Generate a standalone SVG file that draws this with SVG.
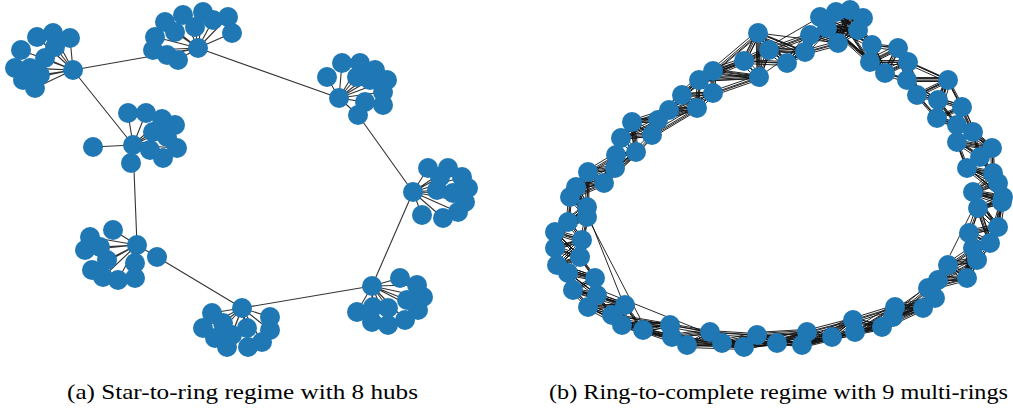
<svg xmlns="http://www.w3.org/2000/svg" xmlns:xlink="http://www.w3.org/1999/xlink" width="1013" height="408" viewBox="0 0 1013 408">
<style>
.e{fill:none;stroke:#333;stroke-width:1.1}
.r{fill:none;stroke:#111;stroke-width:0.9;stroke-linejoin:round}
.n circle{fill:#1f77b4}
.cap{font-family:"Liberation Serif","DejaVu Serif",serif;font-size:21px;fill:#000}
</style>
<defs>
<path id="ring1" d="M820 17L836 12 850 10 863 18 858 30 838 43 827 28 810 35 805 52 787 63 769 50 758 33 744 61 759 77 713 71 699 80 713 93 682 95 697 108 669 110 658 120 652 135 632 122 621 138 636 152 616 155 615 168 604 183 588 172 576 187 570 197 587 207 587 217 568 222 555 232 582 240 555 248 580 257 557 265 568 273 595 278 573 290 597 295 588 307 625 305 612 315 622 325 643 330 670 325 672 337 687 345 710 332 722 343 744 347 757 335 777 343 807 332 802 345 832 337 853 320 855 332 882 327 895 307 893 317 923 308 935 298 928 288 938 280 948 265 967 278 977 260 973 248 969 233 990 243 998 227 978 208 1002 202 973 192 1003 197 998 183 993 173 967 168 980 157 992 148 957 142 973 132 957 125 962 107 937 118 938 100 948 80 917 95 907 80 908 62 898 48 885 73 870 62 872 45Z"/>
<path id="ring2" d="M820 17L850 10 858 30 827 28 805 52 769 50 744 61 713 71 713 93 697 108 658 120 632 122 636 152 615 168 588 172 570 197 587 217 555 232 555 248 557 265 595 278 597 295 625 305 622 325 670 325 687 345 722 343 757 335 807 332 832 337 855 332 895 307 923 308 928 288 948 265 977 260 969 233 998 227 1002 202 1003 197 993 173 980 157 957 142 957 125 937 118 948 80 907 80 898 48 870 62Z M836 12L863 18 838 43 810 35 787 63 758 33 759 77 699 80 682 95 669 110 652 135 621 138 616 155 604 183 576 187 587 207 568 222 582 240 580 257 568 273 573 290 588 307 612 315 643 330 672 337 710 332 744 347 777 343 802 345 853 320 882 327 893 317 935 298 938 280 967 278 973 248 990 243 978 208 973 192 998 183 967 168 992 148 973 132 962 107 938 100 917 95 908 62 885 73 872 45Z"/>
<path id="ring3" d="M820 17L863 18 827 28 787 63 744 61 699 80 697 108 652 135 636 152 604 183 570 197 568 222 555 248 568 273 597 295 612 315 670 325 710 332 757 335 802 345 855 332 893 317 928 288 967 278 969 233 978 208 1003 197 967 168 957 142 962 107 948 80 908 62 870 62 836 12 858 30 810 35 769 50 759 77 713 93 669 110 632 122 616 155 588 172 587 207 555 232 580 257 595 278 588 307 622 325 672 337 722 343 777 343 832 337 882 327 923 308 938 280 977 260 990 243 1002 202 998 183 980 157 973 132 937 118 917 95 898 48 872 45 850 10 838 43 805 52 758 33 713 71 682 95 658 120 621 138 615 168 576 187 587 217 582 240 557 265 573 290 625 305 643 330 687 345 744 347 807 332 853 320 895 307 935 298 948 265 973 248 998 227 973 192 993 173 992 148 957 125 938 100 907 80 885 73Z"/>
</defs>
<g id="connectors">
<g id="edges-a">
<path class="e" d="M73 70L37 37M73 70L53 33M73 70L70 38M73 70L21 50M73 70L55 47M73 70L15 68M73 70L30 68M73 70L23 80M73 70L35 88M73 70L40 75M73 70L45 58"/>
<path class="e" d="M198 48L165 22M198 48L183 15M198 48L203 12M198 48L213 20M198 48L228 17M198 48L232 33M198 48L155 37M198 48L153 50M198 48L167 55M198 48L178 60M198 48L175 32M198 48L195 27"/>
<path class="e" d="M133 145L93 147M133 145L131 163M133 145L128 113M133 145L146 113M133 145L162 119M133 145L175 125M133 145L177 148M133 145L163 158M133 145L150 150M133 145L153 132M133 145L167 137"/>
<path class="e" d="M339 98L327 77M339 98L342 63M339 98L360 63M339 98L375 70M339 98L387 80M339 98L383 92M339 98L383 105M339 98L365 102M339 98L358 115M339 98L370 80M339 98L357 77"/>
<path class="e" d="M413 192L428 168M413 192L448 168M413 192L462 177M413 192L468 188M413 192L465 202M413 192L458 212M413 192L443 218M413 192L422 215M413 192L437 190M413 192L453 193M413 192L440 177"/>
<path class="e" d="M372 286L400 278M372 286L417 285M372 286L423 297M372 286L418 310M372 286L405 320M372 286L388 325M372 286L372 322M372 286L357 312M372 286L373 307M372 286L388 308M372 286L407 300"/>
<path class="e" d="M242 308L212 313M242 308L203 328M242 308L215 338M242 308L227 347M242 308L248 347M242 308L262 342M242 308L270 330M242 308L270 317M242 308L247 328M242 308L232 335M242 308L223 323"/>
<path class="e" d="M137 245L157 257M137 245L113 230M137 245L90 237M137 245L85 250M137 245L92 270M137 245L103 277M137 245L118 280M137 245L135 278M137 245L135 263M137 245L107 260M137 245L100 247"/>
<path class="e" d="M73 70L198 48M198 48L339 98M358 115L413 192M413 192L372 286M372 286L242 308M242 308L157 257M137 245L133 145M133 145L73 70"/>
</g>
<g id="edges-b">
<use xlink:href="#ring1" class="r"/>
<use xlink:href="#ring1" class="r" transform="translate(1.5,1.5)"/>
<use xlink:href="#ring1" class="r" transform="translate(-1.5,-1)"/>
<use xlink:href="#ring1" class="r" transform="translate(2.5,-1.5)"/>
<use xlink:href="#ring1" class="r" transform="translate(-2.5,2)"/>
<use xlink:href="#ring2" class="r"/>
<use xlink:href="#ring2" class="r" transform="translate(1,-1.5)"/>
<use xlink:href="#ring2" class="r" transform="translate(-1,1.5)"/>
<use xlink:href="#ring2" class="r" transform="translate(2.5,1)"/>
<use xlink:href="#ring2" class="r" transform="translate(-2,-2.5)"/>
<use xlink:href="#ring3" class="r"/>
<use xlink:href="#ring3" class="r" transform="translate(1.5,0.5)"/>
<use xlink:href="#ring3" class="r" transform="translate(-1.5,-1.5)"/>
<use xlink:href="#ring3" class="r" transform="translate(0.5,2.5)"/>
<path class="r" d="M587 212L622 300M590 222L640 318M975 205L950 255M744 61L820 17M758 33L838 43M759 77L827 28M600 290L700 330M880 320L980 250"/>
</g>
</g>
<g id="star1" class="n"><circle cx="73" cy="70" r="10"/><circle cx="37" cy="37" r="10"/><circle cx="53" cy="33" r="10"/><circle cx="70" cy="38" r="10"/><circle cx="21" cy="50" r="10"/><circle cx="55" cy="47" r="10"/><circle cx="15" cy="68" r="10"/><circle cx="30" cy="68" r="10"/><circle cx="23" cy="80" r="10"/><circle cx="35" cy="88" r="10"/><circle cx="40" cy="75" r="10"/><circle cx="45" cy="58" r="10"/></g>
<g id="star2" class="n"><circle cx="198" cy="48" r="10"/><circle cx="165" cy="22" r="10"/><circle cx="183" cy="15" r="10"/><circle cx="203" cy="12" r="10"/><circle cx="213" cy="20" r="10"/><circle cx="228" cy="17" r="10"/><circle cx="232" cy="33" r="10"/><circle cx="155" cy="37" r="10"/><circle cx="153" cy="50" r="10"/><circle cx="167" cy="55" r="10"/><circle cx="178" cy="60" r="10"/><circle cx="175" cy="32" r="10"/><circle cx="195" cy="27" r="10"/></g>
<g id="star3" class="n"><circle cx="133" cy="145" r="10"/><circle cx="93" cy="147" r="10"/><circle cx="131" cy="163" r="10"/><circle cx="128" cy="113" r="10"/><circle cx="146" cy="113" r="10"/><circle cx="162" cy="119" r="10"/><circle cx="175" cy="125" r="10"/><circle cx="177" cy="148" r="10"/><circle cx="163" cy="158" r="10"/><circle cx="150" cy="150" r="10"/><circle cx="153" cy="132" r="10"/><circle cx="167" cy="137" r="10"/></g>
<g id="star4" class="n"><circle cx="339" cy="98" r="10"/><circle cx="327" cy="77" r="10"/><circle cx="342" cy="63" r="10"/><circle cx="360" cy="63" r="10"/><circle cx="375" cy="70" r="10"/><circle cx="387" cy="80" r="10"/><circle cx="383" cy="92" r="10"/><circle cx="383" cy="105" r="10"/><circle cx="365" cy="102" r="10"/><circle cx="358" cy="115" r="10"/><circle cx="370" cy="80" r="10"/><circle cx="357" cy="77" r="10"/></g>
<g id="star5" class="n"><circle cx="413" cy="192" r="10"/><circle cx="428" cy="168" r="10"/><circle cx="448" cy="168" r="10"/><circle cx="462" cy="177" r="10"/><circle cx="468" cy="188" r="10"/><circle cx="465" cy="202" r="10"/><circle cx="458" cy="212" r="10"/><circle cx="443" cy="218" r="10"/><circle cx="422" cy="215" r="10"/><circle cx="437" cy="190" r="10"/><circle cx="453" cy="193" r="10"/><circle cx="440" cy="177" r="10"/></g>
<g id="star6" class="n"><circle cx="372" cy="286" r="10"/><circle cx="400" cy="278" r="10"/><circle cx="417" cy="285" r="10"/><circle cx="423" cy="297" r="10"/><circle cx="418" cy="310" r="10"/><circle cx="405" cy="320" r="10"/><circle cx="388" cy="325" r="10"/><circle cx="372" cy="322" r="10"/><circle cx="357" cy="312" r="10"/><circle cx="373" cy="307" r="10"/><circle cx="388" cy="308" r="10"/><circle cx="407" cy="300" r="10"/></g>
<g id="star7" class="n"><circle cx="242" cy="308" r="10"/><circle cx="212" cy="313" r="10"/><circle cx="203" cy="328" r="10"/><circle cx="215" cy="338" r="10"/><circle cx="227" cy="347" r="10"/><circle cx="248" cy="347" r="10"/><circle cx="262" cy="342" r="10"/><circle cx="270" cy="330" r="10"/><circle cx="270" cy="317" r="10"/><circle cx="247" cy="328" r="10"/><circle cx="232" cy="335" r="10"/><circle cx="223" cy="323" r="10"/></g>
<g id="star8" class="n"><circle cx="137" cy="245" r="10"/><circle cx="157" cy="257" r="10"/><circle cx="113" cy="230" r="10"/><circle cx="90" cy="237" r="10"/><circle cx="85" cy="250" r="10"/><circle cx="92" cy="270" r="10"/><circle cx="103" cy="277" r="10"/><circle cx="118" cy="280" r="10"/><circle cx="135" cy="278" r="10"/><circle cx="135" cy="263" r="10"/><circle cx="107" cy="260" r="10"/><circle cx="100" cy="247" r="10"/></g>
<g id="ring-nodes" class="n">
<circle cx="820" cy="17" r="10"/><circle cx="836" cy="12" r="10"/><circle cx="850" cy="10" r="10"/><circle cx="863" cy="18" r="10"/><circle cx="858" cy="30" r="10"/><circle cx="838" cy="43" r="10"/><circle cx="827" cy="28" r="10"/><circle cx="810" cy="35" r="10"/><circle cx="805" cy="52" r="10"/><circle cx="787" cy="63" r="10"/><circle cx="769" cy="50" r="10"/><circle cx="758" cy="33" r="10"/><circle cx="744" cy="61" r="10"/><circle cx="759" cy="77" r="10"/><circle cx="713" cy="71" r="10"/><circle cx="699" cy="80" r="10"/><circle cx="713" cy="93" r="10"/><circle cx="682" cy="95" r="10"/><circle cx="697" cy="108" r="10"/><circle cx="669" cy="110" r="10"/><circle cx="658" cy="120" r="10"/><circle cx="652" cy="135" r="10"/><circle cx="632" cy="122" r="10"/><circle cx="621" cy="138" r="10"/><circle cx="636" cy="152" r="10"/><circle cx="616" cy="155" r="10"/><circle cx="615" cy="168" r="10"/><circle cx="604" cy="183" r="10"/><circle cx="588" cy="172" r="10"/><circle cx="576" cy="187" r="10"/><circle cx="570" cy="197" r="10"/><circle cx="587" cy="207" r="10"/><circle cx="587" cy="217" r="10"/><circle cx="568" cy="222" r="10"/><circle cx="555" cy="232" r="10"/><circle cx="582" cy="240" r="10"/><circle cx="555" cy="248" r="10"/><circle cx="580" cy="257" r="10"/><circle cx="557" cy="265" r="10"/><circle cx="568" cy="273" r="10"/><circle cx="595" cy="278" r="10"/><circle cx="573" cy="290" r="10"/><circle cx="597" cy="295" r="10"/><circle cx="588" cy="307" r="10"/><circle cx="625" cy="305" r="10"/><circle cx="612" cy="315" r="10"/><circle cx="622" cy="325" r="10"/><circle cx="643" cy="330" r="10"/><circle cx="670" cy="325" r="10"/><circle cx="672" cy="337" r="10"/><circle cx="687" cy="345" r="10"/><circle cx="710" cy="332" r="10"/><circle cx="722" cy="343" r="10"/><circle cx="744" cy="347" r="10"/><circle cx="757" cy="335" r="10"/><circle cx="777" cy="343" r="10"/><circle cx="807" cy="332" r="10"/><circle cx="802" cy="345" r="10"/><circle cx="832" cy="337" r="10"/><circle cx="853" cy="320" r="10"/><circle cx="855" cy="332" r="10"/><circle cx="882" cy="327" r="10"/><circle cx="895" cy="307" r="10"/><circle cx="893" cy="317" r="10"/><circle cx="923" cy="308" r="10"/><circle cx="935" cy="298" r="10"/><circle cx="928" cy="288" r="10"/><circle cx="938" cy="280" r="10"/><circle cx="948" cy="265" r="10"/><circle cx="967" cy="278" r="10"/><circle cx="977" cy="260" r="10"/><circle cx="973" cy="248" r="10"/><circle cx="969" cy="233" r="10"/><circle cx="990" cy="243" r="10"/><circle cx="998" cy="227" r="10"/><circle cx="978" cy="208" r="10"/><circle cx="1002" cy="202" r="10"/><circle cx="973" cy="192" r="10"/><circle cx="1003" cy="197" r="10"/><circle cx="998" cy="183" r="10"/><circle cx="993" cy="173" r="10"/><circle cx="967" cy="168" r="10"/><circle cx="980" cy="157" r="10"/><circle cx="992" cy="148" r="10"/><circle cx="957" cy="142" r="10"/><circle cx="973" cy="132" r="10"/><circle cx="957" cy="125" r="10"/><circle cx="962" cy="107" r="10"/><circle cx="937" cy="118" r="10"/><circle cx="938" cy="100" r="10"/><circle cx="948" cy="80" r="10"/><circle cx="917" cy="95" r="10"/><circle cx="907" cy="80" r="10"/><circle cx="908" cy="62" r="10"/><circle cx="898" cy="48" r="10"/><circle cx="885" cy="73" r="10"/><circle cx="870" cy="62" r="10"/><circle cx="872" cy="45" r="10"/>
</g>
<text class="cap" x="67" y="399" textLength="351" lengthAdjust="spacingAndGlyphs">(a) Star-to-ring regime with 8 hubs</text>
<text class="cap" x="549" y="399" textLength="459" lengthAdjust="spacingAndGlyphs">(b) Ring-to-complete regime with 9 multi-rings</text>
</svg>
